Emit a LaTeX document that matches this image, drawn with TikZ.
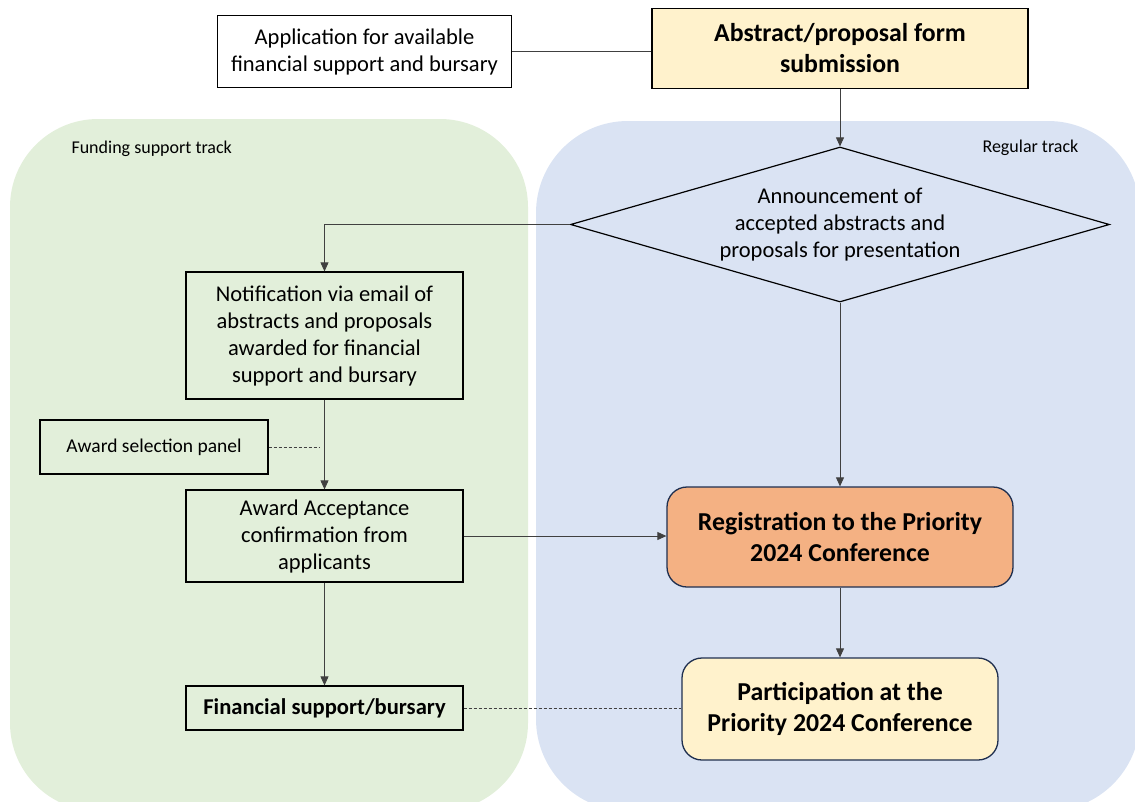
\documentclass[tikz,border=0pt]{standalone}
\usepackage{fontspec}
\setmainfont{Carlito}
\usetikzlibrary{shapes.geometric,arrows.meta}
\definecolor{fundgreen}{HTML}{E2EFDA}
\definecolor{regblue}{HTML}{DAE3F3}
\definecolor{formyellow}{HTML}{FFF2CC}
\definecolor{regorange}{HTML}{F4B183}
\definecolor{edgenavy}{HTML}{1F2F4F}
\definecolor{linegray}{HTML}{404040}

\begin{document}
\begin{tikzpicture}[x=1pt,y=-1pt,
    txt/.style={font=\fontsize{22.5}{27}\selectfont,align=center},
    boldtxt/.style={font=\bfseries\fontsize{25.8}{31}\selectfont,align=center},
    plainbox/.style={txt,draw=black,line width=1.2pt,inner sep=0pt},
    softbox/.style={boldtxt,draw=edgenavy,line width=1.3pt,rounded corners=20pt,inner sep=0pt},
    flow/.style={draw=linegray,line width=0.8pt,-{Triangle[length=9pt,width=8pt]}},
    link/.style={draw=linegray,line width=0.8pt},
    dotlink/.style={draw=linegray,line width=0.7pt,dash pattern=on 3pt off 2pt},
    tracklabel/.style={font=\fontsize{18}{21}\selectfont,anchor=west}]
  \useasboundingbox (0,0) rectangle (1135,801);
  \clip (0,0) rectangle (1135,801);
  \fill[fundgreen,rounded corners=88pt] (10,119) rectangle (528,811);
  \fill[regblue,rounded corners=92pt] (536,121) rectangle (1140,811);
  \node[tracklabel] (fundlabel) at (68,149) {Funding support track};
  \node[tracklabel] (reglabel) at (979,148) {Regular track};

  \node[plainbox,fill=white,minimum width=294pt,minimum height=72pt] (app) at (364.5,51.5) {Application for available\\financial support and bursary};
  \node[plainbox,boldtxt,fill=formyellow,line width=1.4pt,minimum width=376pt,minimum height=80pt] (abs) at (840,48.5) {Abstract/proposal form\\submission};
  \node[txt,draw=black,line width=1.2pt,diamond,aspect=3.48,inner sep=0pt,minimum width=539pt,minimum height=155pt] (announce) at (840,224.5) {Announcement of\\accepted abstracts and\\proposals for presentation};
  \node[plainbox,minimum width=277pt,minimum height=127pt] (notif) at (324.5,335.5) {Notification via email of\\abstracts and proposals\\awarded for financial\\support and bursary};
  \node[plainbox,font=\fontsize{19.5}{23}\selectfont,minimum width=228pt,minimum height=54pt] (panel) at (154,447) {Award selection panel};
  \coordinate (panelend) at (320,447);
  \node[plainbox,minimum width=277pt,minimum height=92pt] (accept) at (324.5,536) {Award Acceptance\\confirmation from\\applicants};
  \node[plainbox,font=\bfseries\fontsize{22.6}{26}\selectfont,minimum width=277pt,minimum height=44pt] (fin) at (324.5,708) {Financial support/bursary};
  \node[softbox,fill=regorange,minimum width=346pt,minimum height=100pt] (reg) at (840,537) {Registration to the Priority\\2024 Conference};
  \node[softbox,fill=formyellow,minimum width=316pt,minimum height=102pt] (part) at (840,709) {Participation at the\\Priority 2024 Conference};

  \draw[link] (app.east) -- (app.east -| abs.west);
  \draw[flow] (abs) -- (announce);
  \draw[flow] (announce.west) -| (notif.north);
  \draw[flow] (notif) -- (accept);
  \draw[dotlink] (panel.east) -- (panelend);
  \draw[flow] (accept.east) -- (accept.east -| reg.west);
  \draw[flow] (accept) -- (fin);
  \draw[flow] (announce) -- (reg);
  \draw[flow] (reg) -- (part);
  \draw[dotlink] (fin.east) -- (fin.east -| part.west);
\end{tikzpicture}
\end{document}
